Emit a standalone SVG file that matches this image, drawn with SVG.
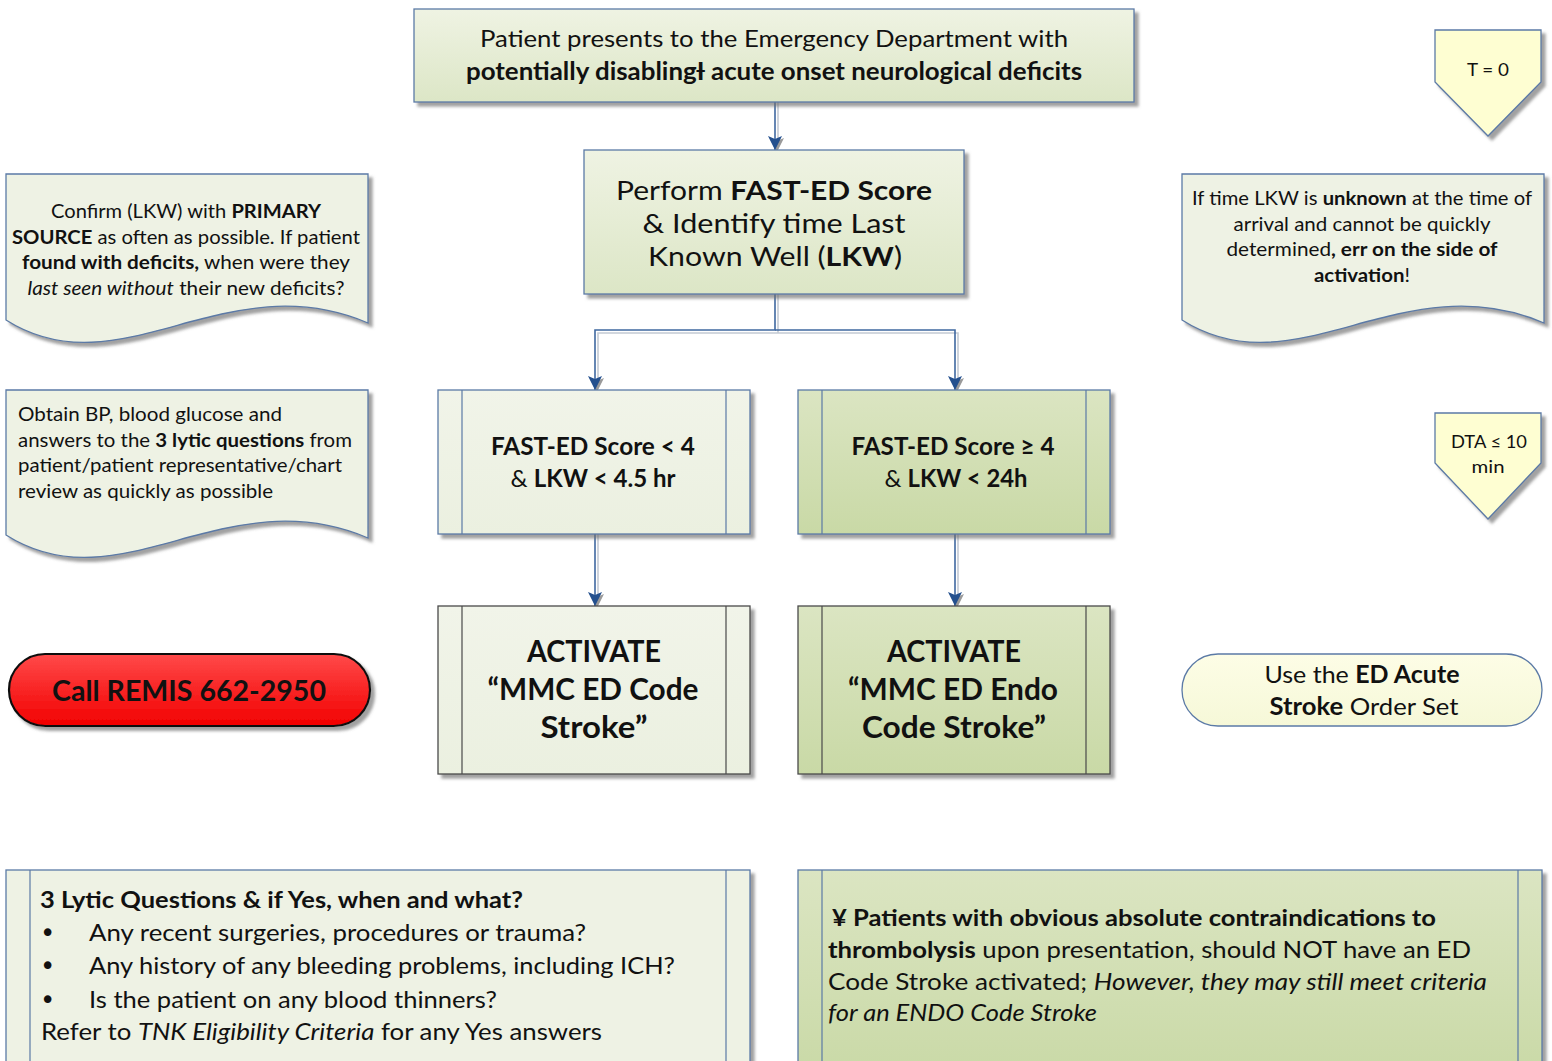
<svg xmlns="http://www.w3.org/2000/svg" width="1552" height="1061" viewBox="0 0 1552 1061">
  <style>
    text { font-family: Lato, "Open Sans", "Liberation Sans", sans-serif; fill: #111; }
    .c { text-anchor: middle; }
    .b { font-weight: bold; }
    .i { font-style: italic; }
    .dot { font-family: "DejaVu Sans", sans-serif; }
    .box { stroke: #5b7aa6; stroke-width: 1.3; }
    .dark { stroke: #4a4a4a; stroke-width: 1.3; }
    .inner { stroke: #5b7aa6; stroke-width: 1.2; fill: none; }
    .innerdark { stroke: #4a4a4a; stroke-width: 1.2; fill: none; }
    .wire { fill: none; stroke: #3f68a0; stroke-width: 1.6; }
    .wireshade { fill: none; stroke: #c4cad3; stroke-width: 1.6; }
  </style>
  <defs>
    <filter id="shadow" x="-10%" y="-10%" width="125%" height="130%">
      <feDropShadow dx="4" dy="4" stdDeviation="1.5" flood-color="#6e6e6e" flood-opacity="0.65"/>
    </filter>
    <linearGradient id="gPale" x1="0" y1="0" x2="0" y2="1">
      <stop offset="0" stop-color="#eff3e3"/>
      <stop offset="1" stop-color="#dce6c6"/>
    </linearGradient>
    <linearGradient id="gLight" x1="0" y1="0" x2="0" y2="1">
      <stop offset="0" stop-color="#f1f4e9"/>
      <stop offset="1" stop-color="#ebf0e0"/>
    </linearGradient>
    <linearGradient id="gGreen" x1="0" y1="0" x2="0" y2="1">
      <stop offset="0" stop-color="#dbe5c2"/>
      <stop offset="1" stop-color="#c9d9a6"/>
    </linearGradient>
    <linearGradient id="gRed" x1="0" y1="0" x2="0" y2="1">
      <stop offset="0" stop-color="#ff4a4a"/>
      <stop offset="1" stop-color="#f20000"/>
    </linearGradient>
    <linearGradient id="gYellow" x1="0" y1="0" x2="0" y2="1">
      <stop offset="0" stop-color="#fdfde6"/>
      <stop offset="1" stop-color="#f6f8d8"/>
    </linearGradient>
    <marker id="arr" markerUnits="userSpaceOnUse" viewBox="0 0 20 20" markerWidth="20" markerHeight="20" refX="16" refY="10" orient="auto">
      <path d="M4,1 L18,8 L4,15 L7,8 Z" fill="#9a9a9a"/>
      <path d="M2,3 L16,10 L2,17 L5,10 Z" fill="#24508e"/>
    </marker>
  </defs>

  <!-- connectors -->
  <g id="connectors">
    <path class="wireshade" d="M778,102 V148"/>
    <path class="wire" d="M775,102 V150" marker-end="url(#arr)"/>
    <path class="wireshade" d="M778,294 V333 H598 V388 M778,333 H958 V388"/>
    <path class="wire" d="M775,294 V330 H595 V390" marker-end="url(#arr)"/>
    <path class="wire" d="M775,330 H955 V390" marker-end="url(#arr)"/>
    <path class="wireshade" d="M598,534 V604"/>
    <path class="wire" d="M595,534 V606" marker-end="url(#arr)"/>
    <path class="wireshade" d="M958,534 V604"/>
    <path class="wire" d="M955,534 V606" marker-end="url(#arr)"/>
  </g>

  <!-- start: patient presents -->
  <g id="start">
    <rect class="box" x="414" y="9" width="720" height="93" fill="url(#gPale)" filter="url(#shadow)"/>
    <text class="c" x="774" y="47" font-size="24" textLength="588" lengthAdjust="spacingAndGlyphs">Patient presents to the Emergency Department with</text>
    <text class="c b" x="774" y="80" font-size="24" textLength="616" lengthAdjust="spacingAndGlyphs">potentially disablingƗ acute onset neurological deficits</text>
  </g>

  <!-- FAST-ED score -->
  <g id="fast-ed">
    <rect class="box" x="584" y="150" width="380" height="144" fill="url(#gPale)" filter="url(#shadow)"/>
    <text class="c" x="774" y="200" font-size="27.5" textLength="316" lengthAdjust="spacingAndGlyphs">Perform <tspan class="b">FAST-ED Score</tspan></text>
    <text class="c" x="774" y="233" font-size="27.5" textLength="263" lengthAdjust="spacingAndGlyphs">&amp; Identify time Last</text>
    <text class="c" x="775" y="266" font-size="27.5" textLength="254" lengthAdjust="spacingAndGlyphs">Known Well (<tspan class="b">LKW</tspan>)</text>
  </g>

  <!-- low score branch -->
  <g id="low-score">
    <rect class="box" x="438" y="390" width="312" height="144" fill="url(#gLight)" filter="url(#shadow)"/>
    <path class="inner" d="M462,390 V534 M726,390 V534"/>
    <text class="c b" x="593" y="455" font-size="24" textLength="204" lengthAdjust="spacingAndGlyphs">FAST-ED Score &lt; 4</text>
    <text class="c" x="593" y="487" font-size="24" textLength="165" lengthAdjust="spacingAndGlyphs">&amp; <tspan class="b">LKW &lt; 4.5 hr</tspan></text>
  </g>

  <!-- high score branch -->
  <g id="high-score">
    <rect class="box" x="798" y="390" width="312" height="144" fill="url(#gGreen)" filter="url(#shadow)"/>
    <path class="inner" d="M822,390 V534 M1086,390 V534"/>
    <text class="c b" x="953" y="455" font-size="24" textLength="203" lengthAdjust="spacingAndGlyphs">FAST-ED Score ≥ 4</text>
    <text class="c" x="956" y="487" font-size="24" textLength="143" lengthAdjust="spacingAndGlyphs">&amp; <tspan class="b">LKW &lt; 24h</tspan></text>
  </g>

  <!-- activate ED code stroke -->
  <g id="activate-code">
    <rect class="dark" x="438" y="606" width="312" height="168" fill="url(#gLight)" filter="url(#shadow)"/>
    <path class="innerdark" d="M462,606 V774 M726,606 V774"/>
    <text class="c b" x="594" y="662" font-size="30" textLength="134" lengthAdjust="spacingAndGlyphs">ACTIVATE</text>
    <text class="c b" x="593" y="700" font-size="30" textLength="211" lengthAdjust="spacingAndGlyphs">“MMC ED Code</text>
    <text class="c b" x="594" y="738" font-size="30" textLength="107" lengthAdjust="spacingAndGlyphs">Stroke”</text>
  </g>

  <!-- activate endo code stroke -->
  <g id="activate-endo">
    <rect class="dark" x="798" y="606" width="312" height="168" fill="url(#gGreen)" filter="url(#shadow)"/>
    <path class="innerdark" d="M822,606 V774 M1086,606 V774"/>
    <text class="c b" x="954" y="662" font-size="30" textLength="134" lengthAdjust="spacingAndGlyphs">ACTIVATE</text>
    <text class="c b" x="953" y="700" font-size="30" textLength="210" lengthAdjust="spacingAndGlyphs">“MMC ED Endo</text>
    <text class="c b" x="954" y="738" font-size="30" textLength="184" lengthAdjust="spacingAndGlyphs">Code Stroke”</text>
  </g>

  <!-- call REMIS -->
  <g id="call-remis">
    <rect x="9" y="654" width="361" height="72" rx="36" ry="36" fill="url(#gRed)" stroke="#111" stroke-width="2.2" filter="url(#shadow)"/>
    <text class="c b" x="189" y="701" font-size="29" textLength="274" lengthAdjust="spacingAndGlyphs">Call REMIS 662-2950</text>
  </g>

  <!-- order set -->
  <g id="order-set">
    <rect x="1182" y="654" width="360" height="72" rx="36" ry="36" fill="url(#gYellow)" stroke="#5b7aa6" stroke-width="1.3"/>
    <text class="c" x="1362" y="683" font-size="24" textLength="195" lengthAdjust="spacingAndGlyphs">Use the <tspan class="b">ED Acute</tspan></text>
    <text class="c" x="1364" y="715" font-size="24" textLength="189" lengthAdjust="spacingAndGlyphs"><tspan class="b">Stroke</tspan> Order Set</text>
  </g>

  <!-- confirm LKW note -->
  <g id="note-confirm">
    <path class="box" d="M6,174 H368 V323 C225,262 120,392 6,320 Z" fill="#eef2e4" filter="url(#shadow)"/>
    <text class="c" x="186" y="218" font-size="19" textLength="270" lengthAdjust="spacingAndGlyphs">Confirm (LKW) with <tspan class="b">PRIMARY</tspan></text>
    <text class="c" x="186" y="244" font-size="19" textLength="348" lengthAdjust="spacingAndGlyphs"><tspan class="b">SOURCE</tspan> as often as possible. If patient</text>
    <text class="c" x="186" y="269" font-size="19" textLength="328" lengthAdjust="spacingAndGlyphs"><tspan class="b">found with deficits,</tspan> when were they</text>
    <text class="c" x="186" y="295" font-size="19" textLength="317" lengthAdjust="spacingAndGlyphs"><tspan class="i">last seen without</tspan> their new deficits?</text>
  </g>

  <!-- unknown LKW note -->
  <g id="note-unknown">
    <path class="box" d="M1182,174 H1544 V323 C1401,262 1296,392 1182,320 Z" fill="#eef2e4" filter="url(#shadow)"/>
    <text class="c" x="1362" y="205" font-size="19" textLength="340" lengthAdjust="spacingAndGlyphs">If time LKW is <tspan class="b">unknown</tspan> at the time of</text>
    <text class="c" x="1362" y="231" font-size="19" textLength="257" lengthAdjust="spacingAndGlyphs">arrival and cannot be quickly</text>
    <text class="c" x="1362" y="256" font-size="19" textLength="271" lengthAdjust="spacingAndGlyphs">determined<tspan class="b">, err on the side of</tspan></text>
    <text class="c" x="1362" y="282" font-size="19" textLength="96" lengthAdjust="spacingAndGlyphs"><tspan class="b">activation</tspan>!</text>
  </g>

  <!-- obtain BP note -->
  <g id="note-obtain">
    <path class="box" d="M6,390 H368 V538 C225,477 120,607 6,535 Z" fill="#eef2e4" filter="url(#shadow)"/>
    <text x="18" y="421" font-size="19" textLength="264" lengthAdjust="spacingAndGlyphs">Obtain BP, blood glucose and</text>
    <text x="18" y="447" font-size="19" textLength="334" lengthAdjust="spacingAndGlyphs">answers to the <tspan class="b">3 lytic questions</tspan> from</text>
    <text x="18" y="472" font-size="19" textLength="324" lengthAdjust="spacingAndGlyphs">patient/patient representative/chart</text>
    <text x="18" y="498" font-size="19" textLength="255" lengthAdjust="spacingAndGlyphs">review as quickly as possible</text>
  </g>

  <!-- time markers -->
  <g id="time-zero">
    <path class="box" d="M1435,30 H1541 V82 L1488,136 L1435,82 Z" fill="#fefed2" filter="url(#shadow)"/>
    <text class="c" x="1488" y="76" font-size="18" textLength="42" lengthAdjust="spacingAndGlyphs">T = 0</text>
  </g>
  <g id="time-dta">
    <path class="box" d="M1435,413 H1541 V463 L1488,519 L1435,463 Z" fill="#fefed2" filter="url(#shadow)"/>
    <text class="c" x="1489" y="448" font-size="18" textLength="76" lengthAdjust="spacingAndGlyphs">DTA ≤ 10</text>
    <text class="c" x="1488" y="473" font-size="18" textLength="33" lengthAdjust="spacingAndGlyphs">min</text>
  </g>

  <!-- lytic questions -->
  <g id="lytic-questions">
    <rect class="box" x="6" y="870" width="744" height="210" fill="#eef2e4" filter="url(#shadow)"/>
    <path class="inner" d="M30,870 V1061 M726,870 V1061"/>
    <text x="40" y="908" font-size="23" class="b" textLength="483" lengthAdjust="spacingAndGlyphs">3 Lytic Questions &amp; if Yes, when and what?</text>
    <text class="dot" x="40" y="942" font-size="26">•</text>
    <text x="89" y="941" font-size="23" textLength="497" lengthAdjust="spacingAndGlyphs">Any recent surgeries, procedures or trauma?</text>
    <text class="dot" x="40" y="975" font-size="26">•</text>
    <text x="89" y="974" font-size="23" textLength="586" lengthAdjust="spacingAndGlyphs">Any history of any bleeding problems, including ICH?</text>
    <text class="dot" x="40" y="1009" font-size="26">•</text>
    <text x="89" y="1008" font-size="23" textLength="408" lengthAdjust="spacingAndGlyphs">Is the patient on any blood thinners?</text>
    <text x="41" y="1040" font-size="23" textLength="561" lengthAdjust="spacingAndGlyphs">Refer to <tspan class="i">TNK Eligibility Criteria</tspan> for any Yes answers</text>
  </g>

  <!-- contraindications note -->
  <g id="contraindications">
    <rect class="box" x="798" y="870" width="744" height="210" fill="url(#gGreen)" filter="url(#shadow)"/>
    <path class="inner" d="M822,870 V1061 M1518,870 V1061"/>
    <text x="832" y="926" font-size="23" class="b" textLength="604" lengthAdjust="spacingAndGlyphs">¥ Patients with obvious absolute contraindications to</text>
    <text x="828" y="958" font-size="23" textLength="643" lengthAdjust="spacingAndGlyphs"><tspan class="b">thrombolysis</tspan> upon presentation, should NOT have  an ED</text>
    <text x="828" y="990" font-size="23" textLength="659" lengthAdjust="spacingAndGlyphs">Code Stroke activated; <tspan class="i">However, they may still meet criteria</tspan></text>
    <text x="828" y="1021" font-size="23" class="i" textLength="269" lengthAdjust="spacingAndGlyphs">for an ENDO Code Stroke</text>
  </g>
</svg>
